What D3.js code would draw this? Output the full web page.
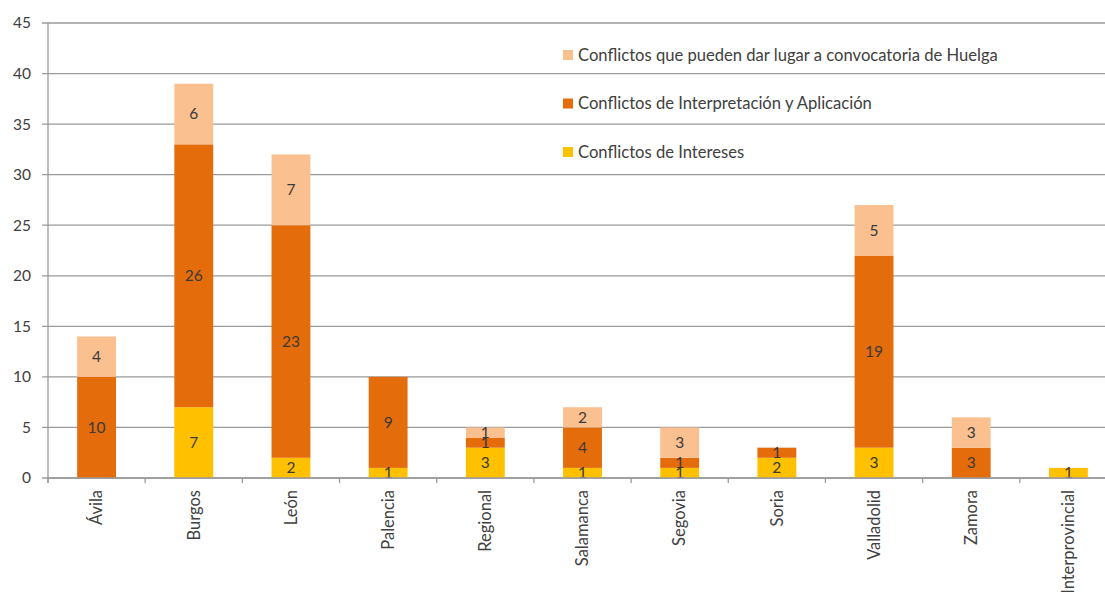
<!DOCTYPE html>
<html><head><meta charset="utf-8">
<script src="https://cdn.jsdelivr.net/npm/d3@7"></script>
<style>
html,body{margin:0;padding:0;background:#fff;overflow:hidden;}
text{font-family:Lato,"Open Sans",sans-serif;}
</style></head>
<body>
<svg id="c" width="1105" height="592"></svg>
<script>
const categories = ["Ávila","Burgos","León","Palencia","Regional","Salamanca","Segovia","Soria","Valladolid","Zamora","Interprovincial"];
const intereses = [0,7,2,1,3,1,1,2,3,0,1];
const interpretacion = [10,26,23,9,1,4,1,1,19,3,0];
const huelga = [4,6,7,0,1,2,3,0,5,3,0];
const seriesNames = ["Conflictos de Intereses","Conflictos de Interpretación y Aplicación","Conflictos que pueden dar lugar a convocatoria de Huelga"];
const seriesColors = ["#FFC000","#E46C0A","#FAC090"];
const yTicks = [0,5,10,15,20,25,30,35,40,45];

const svg = d3.select("#c");
const x0 = 48, x1 = 1117, yTop = 23, yBot = 478;
const x = d3.scaleBand().domain(categories).range([x0,x1]).paddingInner(0.6).paddingOuter(0.3);
const y = d3.scaleLinear().domain([0,45]).range([yBot,yTop]);

// gridlines
svg.append("g").selectAll("line").data(yTicks).join("line")
  .attr("x1",42).attr("x2",1105).attr("y1",d=>y(d)).attr("y2",d=>y(d))
  .attr("stroke","#9a9a9a").attr("stroke-width",1.3);
// y labels
svg.append("g").selectAll("text").data(yTicks).join("text")
  .attr("x",31).attr("y",d=>y(d)).attr("dy","0.35em").attr("text-anchor","end")
  .attr("font-size",15.5).attr("fill","#404040").text(d=>d);
// y axis line
svg.append("line").attr("x1",x0).attr("x2",x0).attr("y1",yTop).attr("y2",yBot+5)
  .attr("stroke","#9a9a9a").attr("stroke-width",1.3);

// stacked data
const data = categories.map((c,i)=>({cat:c, s0:intereses[i], s1:interpretacion[i], s2:huelga[i]}));
const stack = d3.stack().keys(["s0","s1","s2"])(data);

const g = svg.append("g");
stack.forEach((layer,k)=>{
  g.append("g").selectAll("rect").data(layer).join("rect")
    .attr("x",d=>x(d.data.cat)).attr("width",x.bandwidth())
    .attr("y",d=>y(d[1])).attr("height",d=>y(d[0])-y(d[1]))
    .attr("fill",seriesColors[k]);
});
stack.forEach((layer,k)=>{
  g.append("g").selectAll("text").data(layer.filter(d=>d[1]-d[0]>0)).join("text")
    .attr("x",d=>x(d.data.cat)+x.bandwidth()/2)
    .attr("y",d=>(y(d[0])+y(d[1]))/2).attr("dy","0.35em")
    .attr("text-anchor","middle").attr("font-size",15.5).attr("fill","#3a3a3a")
    .text(d=>d[1]-d[0]);
});

// x axis
svg.append("line").attr("x1",x0).attr("x2",1105).attr("y1",yBot).attr("y2",yBot)
  .attr("stroke","#9a9a9a").attr("stroke-width",1.3);
const step = x.step();
const tickXs = categories.map(c=>x(c) - x.paddingInner()*step/2 + step).concat([x0]);
svg.append("g").selectAll("line").data(tickXs).join("line")
  .attr("x1",d=>d).attr("x2",d=>d).attr("y1",yBot).attr("y2",yBot+5)
  .attr("stroke","#9a9a9a").attr("stroke-width",1.3);
svg.append("g").selectAll("text").data(categories).join("text")
  .attr("transform",c=>`translate(${x(c)+x.bandwidth()/2},${yBot+12}) rotate(-90)`)
  .attr("text-anchor","end").attr("dy","0.35em")
  .attr("font-size",16.5).attr("fill","#404040").text(c=>c);

// legend
const legendOrder = [2,1,0];
const lg = svg.append("g");
legendOrder.forEach((k,i)=>{
  const ly = 55 + i*48.5;
  lg.append("rect").attr("x",563).attr("y",ly-5).attr("width",10).attr("height",10).attr("fill",seriesColors[k]);
  lg.append("text").attr("x",578).attr("y",ly).attr("dy","0.35em")
    .attr("font-size",16.6).attr("fill","#404040").text(seriesNames[k]);
});
</script>
</body></html>
